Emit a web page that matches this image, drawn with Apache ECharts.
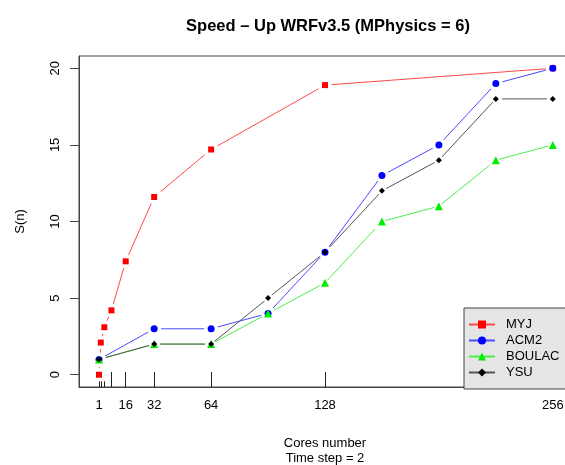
<!DOCTYPE html>
<html>
<head>
<meta charset="utf-8">
<script src="https://cdn.jsdelivr.net/npm/echarts@6/dist/echarts.min.js"></script>
<style>
  html, body { margin: 0; padding: 0; background: #fff; }
  #chart { width: 565px; height: 465px; }
</style>
</head>
<body>
<div id="chart"></div>
<script>
// cores used by each scheme
const coresMYJ = [1, 2, 4, 8, 16, 32, 64, 128, 256];
const coresOther = [1, 32, 64, 96, 128, 160, 192, 224, 256];

// speed-up S(n)
const myj = [0, 2.1, 3.1, 4.2, 7.4, 11.6, 14.7, 18.9, 20];
const acm2 = [1, 3, 3, 4, 8, 13, 15, 19, 20];
const boulac = [1, 2, 2, 4, 6, 10, 11, 14, 15];
const ysu = [1, 2, 2, 5, 8, 12, 14, 18, 18];

const xTicks = [1, 2, 4, 8, 16, 32, 64, 128, 256];
const xLabels = [1, 16, 32, 64, 128, 256];
const yTicks = [0, 5, 10, 15, 20];

const font = 'Liberation Sans, Arial, sans-serif';

const schemes = [
  { name: 'MYJ', xs: coresMYJ, ys: myj, symbol: 'rect', size: 6, color: '#ff0000', line: '#ff4a4a' },
  { name: 'ACM2', xs: coresOther, ys: acm2, symbol: 'circle', size: 7, color: '#0000ff', line: '#4a4aff' },
  { name: 'BOULAC', xs: coresOther, ys: boulac, symbol: 'triangle', size: 8, color: '#00ee00', line: '#4aee4a' },
  { name: 'YSU', xs: coresOther, ys: ysu, symbol: 'diamond', size: 6, color: '#000000', line: '#555555' }
];

const pairs = (xs, ys) => xs.map((x, i) => [x, ys[i]]);

const series = [];
// lines with a white blob under each point (R type = "b" gaps)
schemes.forEach(s => {
  series.push({
    name: s.name,
    type: 'line',
    data: pairs(s.xs, s.ys),
    symbol: s.symbol,
    symbolSize: s.size + 7,
    itemStyle: { color: '#ffffff', borderWidth: 0 },
    lineStyle: { color: s.line, width: 1 },
    emphasis: { disabled: true },
    z: 2
  });
});
// the markers themselves
schemes.forEach(s => {
  series.push({
    name: s.name,
    type: 'scatter',
    data: pairs(s.xs, s.ys),
    symbol: s.symbol,
    symbolSize: s.size,
    itemStyle: { color: s.color, opacity: 1 },
    emphasis: { disabled: true },
    z: 3
  });
});

const chart = echarts.init(document.getElementById('chart'));

chart.setOption({
  animation: false,
  backgroundColor: '#ffffff',
  title: {
    text: 'Speed \u2013 Up WRFv3.5 (MPhysics = 6)',
    left: 323,
    textAlign: 'center',
    top: 13,
    textStyle: { fontFamily: font, fontSize: 16.5, fontWeight: 'bold', color: '#000' }
  },
  grid: {
    left: 79,
    right: -6,
    top: 56,
    bottom: 78,
    outerBoundsMode: 'none',
    containLabel: false,
    show: true,
    borderColor: '#444',
    borderWidth: 1
  },
  legend: {
    orient: 'vertical',
    left: 464,
    top: 308,
    padding: [10, 60, 10, 4],
    itemWidth: 26,
    itemHeight: 10,
    itemGap: 3,
    backgroundColor: '#e5e5e5',
    borderColor: '#444',
    borderWidth: 1,
    borderRadius: 0,
    selectedMode: false,
    textStyle: { fontFamily: font, fontSize: 13, color: '#000', lineHeight: 12, padding: [0, 0, 0, 6] },
    data: schemes.map(s => ({ name: s.name, itemStyle: { color: s.color, borderWidth: 0 } }))
  },
  xAxis: {
    type: 'value',
    min: -10.24,
    max: 266.24,
    splitLine: { show: false },
    axisLine: { show: true, onZero: false, lineStyle: { color: '#444' } },
    axisTick: { show: true, inside: true, length: 15, customValues: xTicks, lineStyle: { color: '#222' } },
    axisLabel: { customValues: xLabels, fontFamily: font, fontSize: 13, color: '#000', margin: 12 },
    name: 'Cores number\nTime step = 2',
    nameLocation: 'middle',
    nameGap: 49,
    nameTextStyle: { fontFamily: font, fontSize: 13, lineHeight: 15, color: '#000' }
  },
  yAxis: {
    type: 'value',
    min: -0.8,
    max: 20.8,
    splitLine: { show: false },
    axisLine: { show: true, onZero: false, lineStyle: { color: '#444' } },
    axisTick: { show: true, length: 9, customValues: yTicks, lineStyle: { color: '#444' } },
    axisLabel: {
      customValues: yTicks, rotate: 90, margin: 17,
      align: 'center', verticalAlign: 'bottom',
      fontFamily: font, fontSize: 13, color: '#000'
    },
    name: 'S(n)',
    nameLocation: 'middle',
    nameGap: 52,
    nameRotate: 90,
    nameTextStyle: { fontFamily: font, fontSize: 13, color: '#000' }
  },
  series: series
});
</script>
</body>
</html>
